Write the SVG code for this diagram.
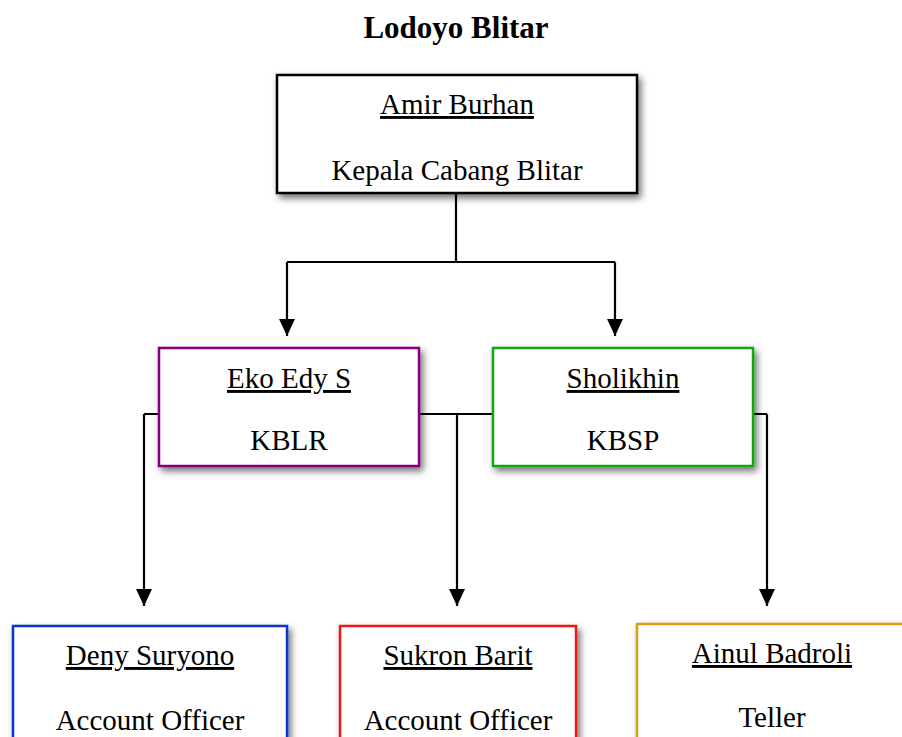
<svg xmlns="http://www.w3.org/2000/svg" width="902" height="737" viewBox="0 0 902 737">
<style>
text{font-family:"Liberation Serif","Times New Roman",serif;font-size:29px;fill:#000;text-anchor:middle}
.title{font-size:31px;font-weight:bold}
.name{text-decoration:underline}
.box{fill:#fff;stroke-width:2.5}
.conn{fill:none;stroke:#000;stroke-width:2.2}
</style>
<defs>
<filter id="sh" x="-10%" y="-10%" width="130%" height="140%">
<feDropShadow dx="3" dy="4" stdDeviation="3.5" flood-color="#000" flood-opacity="0.55"/>
</filter>
<marker id="arrd" viewBox="0 0 17 16" refX="17" refY="8" markerWidth="17" markerHeight="16" markerUnits="userSpaceOnUse" orient="auto">
<path d="M0,0 L17,8 L0,16 Z" fill="#000"/>
</marker>
</defs>
<text class="title" x="456" y="38">Lodoyo Blitar</text>
<g id="connectors">
<path class="conn" d="M456,193 V262 M287,262 H615"/>
<line x1="287" y1="262" x2="287" y2="336" class="conn" marker-end="url(#arrd)"/>
<line x1="615" y1="262" x2="615" y2="336" class="conn" marker-end="url(#arrd)"/>
<path class="conn" d="M159,414 H144 M419,414 H493 M753,414 H767"/>
<line x1="144" y1="414" x2="144" y2="606" class="conn" marker-end="url(#arrd)"/>
<line x1="457" y1="414" x2="457" y2="606" class="conn" marker-end="url(#arrd)"/>
<line x1="767" y1="414" x2="767" y2="606" class="conn" marker-end="url(#arrd)"/>
</g>
<g id="amir">
<rect class="box" x="277" y="75" width="360" height="118" stroke="#000" filter="url(#sh)"/>
<text class="name" x="457" y="114">Amir Burhan</text>
<text x="457" y="180">Kepala Cabang Blitar</text>
</g>
<g id="eko">
<rect class="box" x="159" y="348" width="260" height="118" stroke="#800080" filter="url(#sh)"/>
<text class="name" x="289" y="388">Eko Edy S</text>
<text x="289" y="450">KBLR</text>
</g>
<g id="sholikhin">
<rect class="box" x="493" y="348" width="260" height="118" stroke="#17a317" filter="url(#sh)"/>
<text class="name" x="623" y="388">Sholikhin</text>
<text x="623" y="450">KBSP</text>
</g>
<g id="deny">
<rect class="box" x="13" y="626" width="274" height="130" stroke="#0a35c8" filter="url(#sh)"/>
<text class="name" x="150" y="665">Deny Suryono</text>
<text x="150" y="730">Account Officer</text>
</g>
<g id="sukron">
<rect class="box" x="340" y="626" width="236" height="130" stroke="#f01818" filter="url(#sh)"/>
<text class="name" x="458" y="665">Sukron Barit</text>
<text x="458" y="730">Account Officer</text>
</g>
<g id="ainul">
<rect class="box" x="637" y="624" width="280" height="130" stroke="#d4a012" filter="url(#sh)"/>
<text class="name" x="772" y="663">Ainul Badroli</text>
<text x="772" y="727">Teller</text>
</g>
</svg>
